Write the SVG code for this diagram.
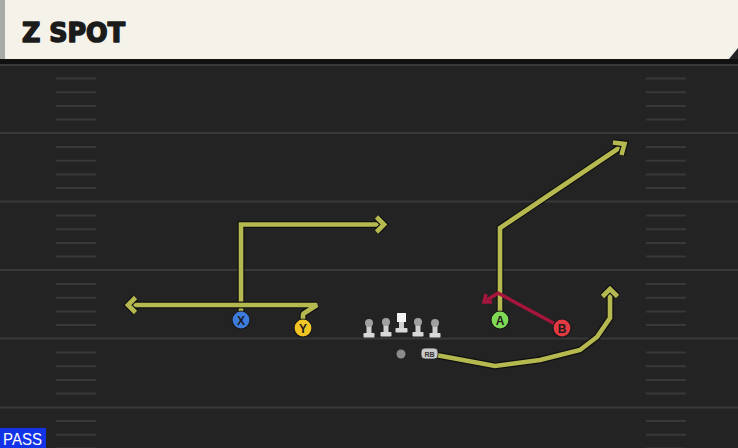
<svg xmlns="http://www.w3.org/2000/svg" width="738" height="448" viewBox="0 0 738 448">
<defs>
<style>
.fl{stroke:#393939;stroke-width:2}
.hm{stroke:#383838;stroke-width:2}
.ro{fill:none;stroke:#101010;stroke-width:7;stroke-linejoin:miter;stroke-linecap:butt}
.ri{fill:none;stroke:#b6b850;stroke-width:4.6;stroke-linejoin:miter;stroke-linecap:butt}
.bv{stroke-linejoin:bevel}
.rr{fill:none;stroke:#a5153c;stroke-width:3.5;stroke-linejoin:miter}
.pl{stroke:#1a1a1a;stroke-width:1.2}
.lt{font-family:"Liberation Sans",Arial,sans-serif;font-weight:bold;font-size:12px;fill:#1d1d1d;text-anchor:middle}
</style>
<g id="hashes">
<line class="hm" x1="56" y1="0" x2="96" y2="0"/>
<line class="hm" x1="646" y1="0" x2="686" y2="0"/>
</g>
<g id="hset">
<use href="#hashes" y="78.5"/>
<use href="#hashes" y="92.2"/>
<use href="#hashes" y="105.9"/>
<use href="#hashes" y="119.6"/>
</g>
<g id="lineman">
<rect x="-2.5" y="-9" width="5" height="10" fill="#cfcfcf"/>
<circle cx="0" cy="-9" r="4" fill="#a0a0a0"/>
<rect x="-5.5" y="1" width="11" height="4.5" rx="0.8" fill="#d8d8d8"/>
</g>
</defs>
<rect width="738" height="448" fill="#232323"/>
<rect x="0" y="59" width="738" height="5" fill="#111"/>
<g id="field-lines">
<line class="fl" x1="0" y1="65" x2="738" y2="65"/>
<line class="fl" x1="0" y1="133" x2="738" y2="133"/>
<line class="fl" x1="0" y1="201.5" x2="738" y2="201.5"/>
<line class="fl" x1="0" y1="270" x2="738" y2="270"/>
<line class="fl" x1="0" y1="338.5" x2="738" y2="338.5"/>
<line class="fl" x1="0" y1="407.5" x2="738" y2="407.5"/>
<use href="#hset" y="0"/>
<use href="#hset" y="68.5"/>
<use href="#hset" y="137"/>
<use href="#hset" y="205.5"/>
<use href="#hset" y="274"/>
<use href="#hset" y="342.5"/>
</g>
<g id="title">
<path d="M0,0 H738 V48 L729,59 H0 Z" fill="#f5f2ea"/>
<rect x="0" y="0" width="5" height="59" fill="#a9aba8"/>
<text x="22" y="42" font-family="'DejaVu Sans','Liberation Sans',sans-serif" font-weight="bold" font-size="27" textLength="103" lengthAdjust="spacingAndGlyphs" fill="#1b1b1b" stroke="#1b1b1b" stroke-width="1.6" stroke-linejoin="round">Z SPOT</text>
</g>
<g id="connectors">
<path class="ro" d="M241,312 V224.5 H382"/>
<path class="ri" d="M241,312 V224.5 H382"/>
<path class="ro" d="M376.5,217 L384,224.5 L376.5,232"/>
<path class="ri" d="M376.5,217 L384,224.5 L376.5,232"/>
<path class="ro bv" d="M303,320 V314 L317,305 H130"/>
<path class="ri bv" d="M303,320 V314 L317,305 H130"/>
<path class="ro" d="M135.5,297.5 L128,305 L135.5,312.5"/>
<path class="ri" d="M135.5,297.5 L128,305 L135.5,312.5"/>
<path class="ro" d="M500,312 V228 L622,146"/>
<path class="ri" d="M500,312 V228 L622,146"/>
<path class="ro" d="M613,142.5 L624.5,144 L621.5,155"/>
<path class="ri" d="M613,142.5 L624.5,144 L621.5,155"/>
<path class="ro" d="M436,355 L495,366 L540,360 L580,350 L597,337 L610,318 V291"/>
<path class="ri" d="M436,355 L495,366 L540,360 L580,350 L597,337 L610,318 V291"/>
<path class="ro" d="M602.5,296.5 L610,289 L617.5,296.5"/>
<path class="ri" d="M602.5,296.5 L610,289 L617.5,296.5"/>
<path class="rr" d="M557,325 L498,293 L487,300"/>
<path class="rr" d="M486,294 L484,302 L492,302"/>
</g>
<g id="player-X"><circle class="pl" cx="241" cy="320" r="9" fill="#3d7cdc"/><text class="lt" x="241" y="324.5">X</text></g>
<g id="player-Y"><circle class="pl" cx="303" cy="328" r="9" fill="#f1c524"/><text class="lt" x="303" y="332.5">Y</text></g>
<g id="player-A"><circle class="pl" cx="500" cy="320" r="9" fill="#7fd955"/><text class="lt" x="500" y="324.5">A</text></g>
<g id="player-B"><circle class="pl" cx="562" cy="328" r="9" fill="#e23a40"/><text class="lt" x="562" y="332.5">B</text></g>
<g id="line">
<use href="#lineman" x="369" y="332"/>
<use href="#lineman" x="386" y="331"/>
<g id="center">
<rect x="397" y="313" width="9" height="9" fill="#f4f4f4"/>
<rect x="399" y="322" width="5" height="7" fill="#cfcfcf"/>
<rect x="395.5" y="328" width="12" height="4.5" rx="0.8" fill="#d8d8d8"/>
</g>
<use href="#lineman" x="418" y="331"/>
<use href="#lineman" x="435" y="332"/>
</g>
<g id="ball"><circle cx="401" cy="354" r="4.5" fill="#8b8b8b"/></g>
<g id="player-RB"><rect x="421" y="348" width="17" height="11" rx="4" fill="#c9c9c9" stroke="#222" stroke-width="0.8"/><text x="429.5" y="356.5" font-family="'Liberation Sans',sans-serif" font-weight="bold" font-size="7" fill="#333" text-anchor="middle">RB</text></g>
<g id="pass"><rect x="0" y="428" width="46" height="20" fill="#1234e6"/><text x="3" y="445" font-family="'Liberation Sans',Arial,sans-serif" font-size="16" textLength="39" lengthAdjust="spacingAndGlyphs" fill="#fff">PASS</text></g>
</svg>
